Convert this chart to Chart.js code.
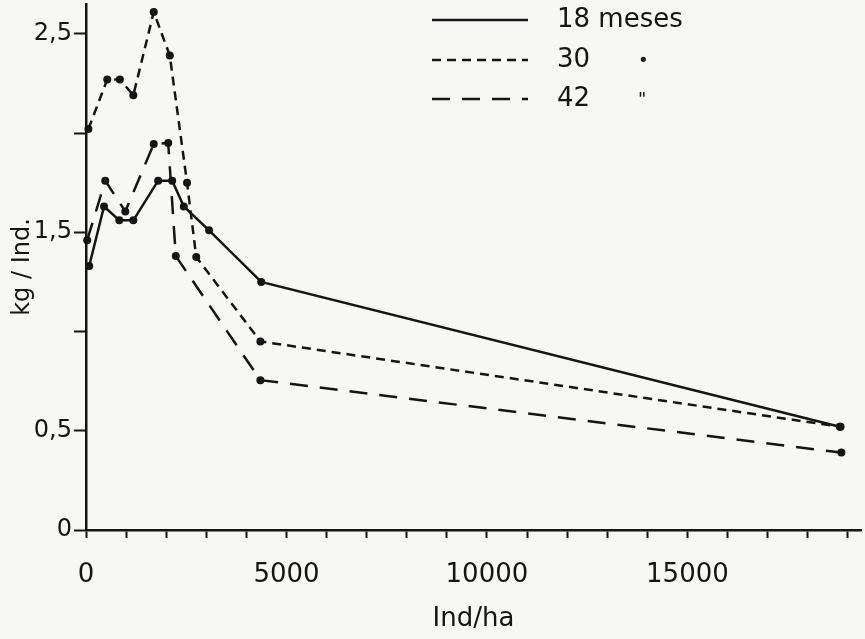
<!DOCTYPE html>
<html>
<head>
<meta charset="utf-8">
<script src="https://cdn.jsdelivr.net/npm/chart.js@4.4.1/dist/chart.umd.min.js"></script>
<style>
  html, body { margin: 0; padding: 0; background: #f7f7f4; }
  canvas { display: block; }
</style>
</head>
<body>
<canvas id="chart" width="865" height="639"></canvas>
<script>
'use strict';

// Ind/ha (x) y kg/Ind. (y)
var x18 = [80, 450, 830, 1180, 1800, 2150, 2440, 3070, 4370, 18800];
var y18 = [1.33, 1.63, 1.56, 1.56, 1.76, 1.76, 1.63, 1.51, 1.25, 0.52];

var x30 = [60, 530, 845, 1180, 1690, 2090, 2520, 2750, 4350, 18820];
var y30 = [2.02, 2.27, 2.27, 2.19, 2.61, 2.39, 1.75, 1.375, 0.95, 0.52];

var x42 = [30, 480, 980, 1690, 2050, 2240, 4350, 18840];
var y42 = [1.46, 1.76, 1.605, 1.945, 1.95, 1.38, 0.755, 0.39];

var seriesNames = ['18 meses', '30', '42'];
var dittoMarks = ['', '\u2022', '"'];

// tick marks every 1000 Ind/ha and every 0.5 kg, labels on some of them
var xTickMarks = [0, 1000, 2000, 3000, 4000, 5000, 6000, 7000, 8000, 9000,
	10000, 11000, 12000, 13000, 14000, 15000, 16000, 17000, 18000, 19000];
var xTickValues = [0, 5000, 10000, 15000];
var xTickText = ['0', '5000', '10000', '15000'];
var yTickMarks = [0, 0.5, 1, 1.5, 2, 2.5];
var yTickValues = [0, 0.5, 1.5, 2.5];
var yTickText = ['0', '0,5', '1,5', '2,5'];

var ink = '#141414',
	font = 'DejaVu Sans';

function toPoints(xs, ys) {
	return xs.map(function (x, i) {
		return { x: x, y: ys[i] };
	});
}

function lineSet(label, xs, ys, dash) {
	return {
		label: label,
		data: toPoints(xs, ys),
		borderColor: ink,
		backgroundColor: ink,
		borderWidth: 2.5,
		borderDash: dash,
		pointRadius: 4,
		pointBackgroundColor: ink,
		pointBorderWidth: 0,
		tension: 0,
		clip: false
	};
}

function labelFor(values, texts, v) {
	for (var i = 0; i < values.length; i++) {
		if (Math.abs(values[i] - v) < 1e-6) {
			return texts[i];
		}
	}
	return '';
}

function fixedTicks(marks) {
	return function (scale) {
		scale.ticks = marks.map(function (v) {
			return { value: v };
		});
	};
}

// hand-drawn style legend in the upper part of the plot
var sketchLegend = {
	id: 'sketchLegend',
	afterDraw: function (chart) {
		var ctx = chart.ctx,
			rows = [20, 60, 99];
		ctx.save();
		chart.data.datasets.forEach(function (ds, i) {
			var y = rows[i];
			ctx.strokeStyle = ink;
			ctx.lineWidth = 2.5;
			ctx.setLineDash(ds.borderDash || []);
			ctx.beginPath();
			ctx.moveTo(432, y);
			ctx.lineTo(528, y);
			ctx.stroke();
			ctx.setLineDash([]);
			ctx.fillStyle = ink;
			ctx.font = '26px "' + font + '"';
			ctx.textBaseline = 'middle';
			ctx.textAlign = 'left';
			ctx.fillText(seriesNames[i], 557, y);
			if (dittoMarks[i]) {
				ctx.font = '18px "' + font + '"';
				ctx.fillText(dittoMarks[i], 638, y + 1);
			}
		});
		ctx.restore();
	}
};

new Chart(document.getElementById('chart'), {
	type: 'line',
	data: {
		datasets: [
			lineSet(seriesNames[0], x18, y18, []),
			lineSet(seriesNames[1], x30, y30, [9, 6]),
			lineSet(seriesNames[2], x42, y42, [18, 12])
		]
	},
	options: {
		responsive: false,
		animation: false,
		layout: { padding: 0 },
		plugins: {
			legend: { display: false },
			tooltip: { enabled: false }
		},
		scales: {
			x: {
				type: 'linear',
				min: 0,
				max: 19330,
				afterBuildTicks: fixedTicks(xTickMarks),
				afterFit: function (scale) {
					scale.height = 109;
					scale.paddingLeft = 0;
					scale.paddingRight = 0;
				},
				ticks: {
					autoSkip: false,
					maxRotation: 0,
					padding: 22,
					color: ink,
					font: { family: font, size: 26 },
					callback: function (v) {
						return labelFor(xTickValues, xTickText, v);
					}
				},
				grid: {
					drawOnChartArea: false,
					drawTicks: true,
					tickLength: 8,
					tickWidth: 2,
					tickColor: ink
				},
				border: { display: true, color: ink, width: 2.5 },
				title: {
					display: true,
					text: 'Ind/ha',
					color: ink,
					font: { family: font, size: 26 },
					padding: { top: 4, bottom: 4 }
				}
			},
			y: {
				min: 0,
				max: 2.65,
				afterBuildTicks: fixedTicks(yTickMarks),
				afterFit: function (scale) {
					scale.width = 86;
					scale.paddingTop = 0;
					scale.paddingBottom = 0;
				},
				ticks: {
					autoSkip: false,
					padding: 2,
					color: ink,
					font: { family: font, size: 24 },
					callback: function (v) {
						return labelFor(yTickValues, yTickText, v);
					}
				},
				grid: {
					drawOnChartArea: false,
					drawTicks: true,
					tickLength: 12,
					tickWidth: 2,
					tickColor: ink
				},
				border: { display: true, color: ink, width: 2.5 },
				title: {
					display: true,
					text: 'kg / Ind.',
					color: ink,
					font: { family: font, size: 24 },
					padding: { top: 8, bottom: 0 }
				}
			}
		}
	},
	plugins: [sketchLegend]
});
</script>
</body>
</html>
